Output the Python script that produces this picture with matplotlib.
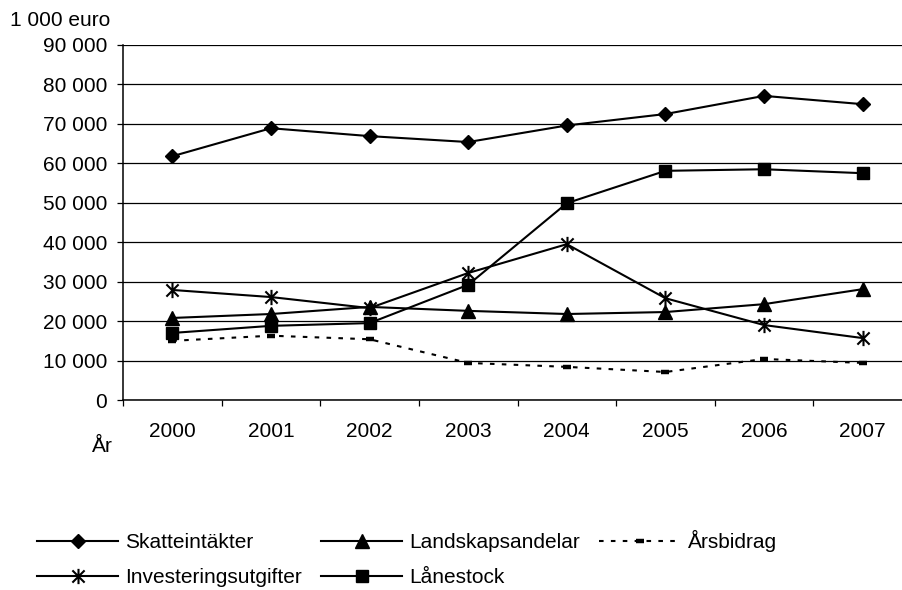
import matplotlib
matplotlib.use('Agg')
import matplotlib.pyplot as plt
from matplotlib.path import Path
from matplotlib.ticker import FuncFormatter, MultipleLocator

plt.rcParams['font.family'] = ['Liberation Sans', 'DejaVu Sans']
plt.rcParams['font.size'] = 15

# Data (1 000 euro)
years = ['2000', '2001', '2002', '2003', '2004', '2005', '2006', '2007']
skatteintakter = [61800, 68900, 66900, 65400, 69600, 72500, 77100, 75000]
landskapsandelar = [20800, 21800, 23600, 22600, 21800, 22300, 24300, 28100]
arsbidrag = [15000, 16300, 15400, 9400, 8400, 7100, 10400, 9400]
investeringsutgifter = [27900, 26100, 23300, 32200, 39500, 25800, 19000, 15700]
lanestock = [17000, 18800, 19500, 29200, 49900, 58100, 58500, 57500]

# asterisk marker: X plus vertical bar
star = Path([(-1, -1), (1, 1), (-1, 1), (1, -1), (0, -1.25), (0, 1.25)],
            [Path.MOVETO, Path.LINETO, Path.MOVETO, Path.LINETO, Path.MOVETO, Path.LINETO])

fig = plt.figure(figsize=(9.02, 5.9), dpi=100)
ax = fig.add_axes([123 / 902, 1 - 400 / 590, (912 - 123) / 902, 355 / 590])

x = range(len(years))
l_skatt, = ax.plot(x, skatteintakter, color='black', lw=1.5, marker='D', ms=7,
                   label='Skatteintäkter')
l_land, = ax.plot(x, landskapsandelar, color='black', lw=1.5, marker='^', ms=9.5,
                  label='Landskapsandelar')
l_ars, = ax.plot(x, arsbidrag, color='black', lw=1.5, linestyle=(0, (2.2, 3.5)),
                 marker='_', ms=6, mew=3.2, label='Årsbidrag')
l_inv, = ax.plot(x, investeringsutgifter, color='black', lw=1.5, marker=star, ms=11,
                 mfc='none', mec='black', mew=1.5, label='Investeringsutgifter')
l_lan, = ax.plot(x, lanestock, color='black', lw=1.5, marker='s', ms=8.5,
                 label='Lånestock')

ax.set_xlim(-0.5, len(years) - 0.5)
ax.set_ylim(0, 90000)
ax.yaxis.set_major_locator(MultipleLocator(10000))
ax.yaxis.set_major_formatter(FuncFormatter(lambda v, p: f'{int(v):,}'.replace(',', ' ')))
ax.yaxis.grid(True, color='black', lw=0.9)
ax.set_axisbelow(True)

ax.set_xticks(list(x))
ax.set_xticklabels(years)
ax.set_xticks([i - 0.5 for i in range(len(years) + 1)], minor=True)
ax.tick_params(axis='x', which='major', length=0, pad=16)
ax.tick_params(axis='x', which='minor', length=4.3, width=0.9, direction='out')
ax.tick_params(axis='y', length=4.3, width=0.9, pad=7)

for s in ['top', 'right']:
    ax.spines[s].set_visible(False)
for s in ['left', 'bottom']:
    ax.spines[s].set_linewidth(1.1)

fig.text(10 / 902, 1 - 20 / 590, '1 000 euro', ha='left', va='center')
fig.text(92 / 902, 1 - 452 / 590, 'År', ha='left', va='baseline')

fig.legend([l_skatt, l_inv, l_land, l_lan, l_ars],
           ['Skatteintäkter', 'Investeringsutgifter', 'Landskapsandelar', 'Lånestock', 'Årsbidrag'],
           loc='upper left', bbox_to_anchor=(37 / 902, 1 - 530 / 590), ncol=3,
           frameon=False, borderpad=0, borderaxespad=0, handlelength=3.9,
           handletextpad=0.35, columnspacing=0.9, labelspacing=0.78)

fig.savefig('out.png', dpi=100)
